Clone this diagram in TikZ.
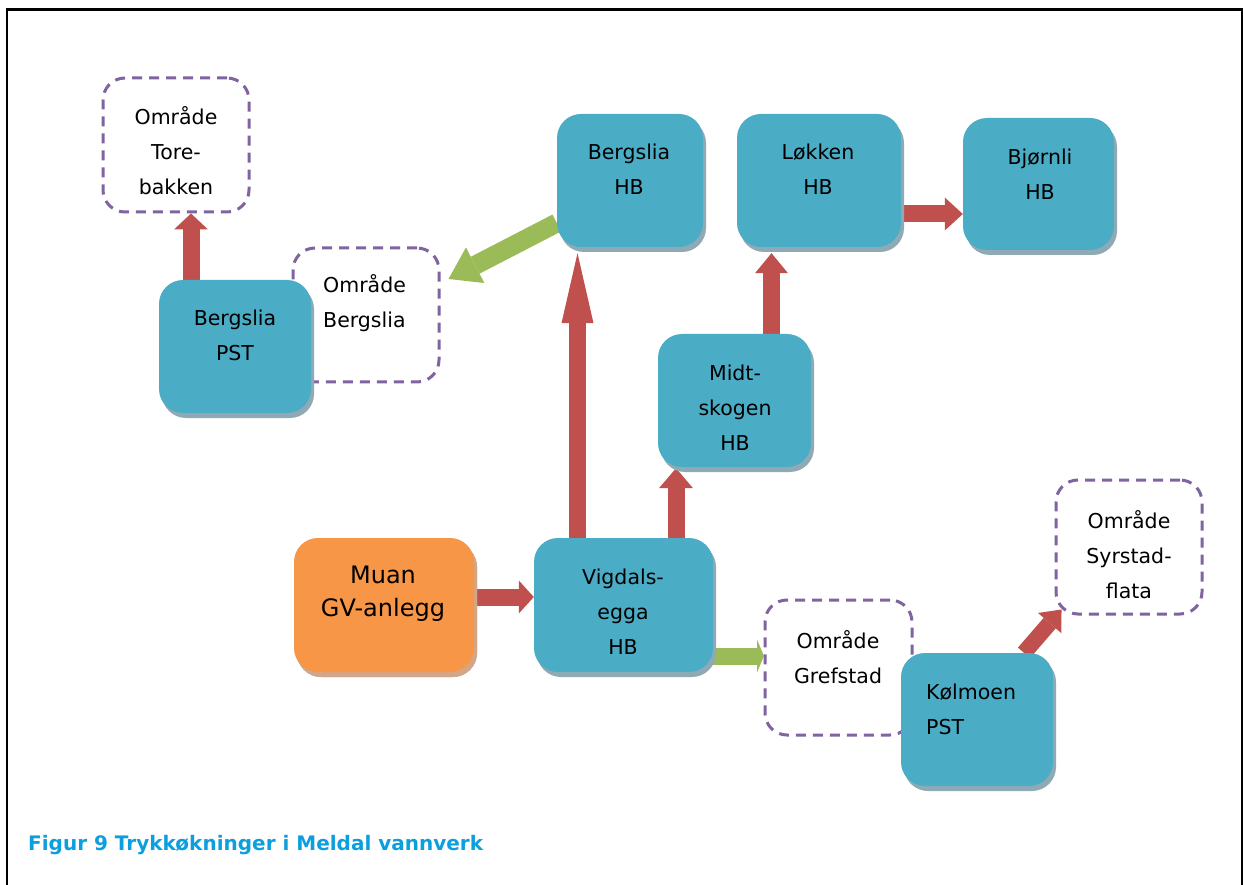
\documentclass[tikz,border=0pt]{standalone}
\usepackage{fontspec}
\setmainfont{DejaVu Sans}
\usetikzlibrary{arrows.meta,shadows}
\definecolor{tealA}{HTML}{4BACC6}
\definecolor{tealSh}{HTML}{8FAAB4}
\definecolor{orngA}{HTML}{F79646}
\definecolor{orngSh}{HTML}{D4A688}
\definecolor{redA}{HTML}{C0504D}
\definecolor{grnA}{HTML}{9BBB59}
\definecolor{purpA}{HTML}{8064A2}
\definecolor{capblue}{HTML}{0C9FDF}
\pgfdeclarelayer{back}
\pgfdeclarelayer{arr}
\pgfsetlayers{back,arr,main}
\begin{document}
\begin{tikzpicture}[x=1pt,y=-1pt,
  solidbox/.style={rectangle, rounded corners=24pt, fill=tealA, draw=none, inner sep=0pt,
    drop shadow={shadow xshift=3pt, shadow yshift=-5pt, fill=tealSh, opacity=1}},
  orangebox/.style={solidbox, fill=orngA,
    drop shadow={shadow xshift=3pt, shadow yshift=-5pt, fill=orngSh, opacity=1}},
  dbox/.style={rectangle, rounded corners=22pt, draw=purpA, fill=white, line width=3pt,
    dash pattern=on 10pt off 7pt, inner sep=0pt},
  lbl/.style={align=center, font=\fontsize{20.5}{35}\selectfont, inner sep=0pt},
  lbll/.style={align=left, anchor=west, font=\fontsize{20.5}{35}\selectfont, inner sep=0pt},
  blk/.style n args={4}{draw=#1, line width=#2, -{Triangle[length=#3, width=#4, line width=0pt]}}
]
\useasboundingbox (0,0) rectangle (1243,885);

\begin{pgfonlayer}{back}
\fill[white] (0,0) rectangle (1243,885);
\node[dbox, minimum width=146pt, minimum height=134pt] (tore) at (176,145) {};
\node[dbox, minimum width=146pt, minimum height=134pt] (obergs) at (366,315) {};
\node[dbox, minimum width=147pt, minimum height=135pt] (gref) at (838.5,667.5) {};
\node[dbox, minimum width=146pt, minimum height=134pt] (syr) at (1129,547) {};
\end{pgfonlayer}

\draw[line width=2.5pt] (7,886) -- (7,9.5) -- (1242,9.5) -- (1242,886);

\node[solidbox, minimum width=152pt, minimum height=133pt] (bpst) at (235,346.5) {};
\node[solidbox, minimum width=146pt, minimum height=133pt] (bhb) at (630,180.5) {};
\node[solidbox, minimum width=164pt, minimum height=133pt] (lok) at (819,180.5) {};
\node[solidbox, minimum width=151pt, minimum height=132pt] (bjo) at (1038.5,184) {};
\node[solidbox, minimum width=153pt, minimum height=133pt] (midt) at (734.5,400.5) {};
\node[solidbox, minimum width=179pt, minimum height=134pt] (vig) at (623.5,605) {};
\node[orangebox, minimum width=180pt, minimum height=134pt] (muan) at (384,605) {};
\node[solidbox, minimum width=152pt, minimum height=133pt] (kol) at (977,719.5) {};

\node[lbl] (toreT) at (176,151) {Område\\Tore-\\bakken};
\node[lbll] (obergsT) at (323,303.5) {Område\\Bergslia};
\node[lbl] (grefT) at (838,657) {Område\\Grefstad};
\node[lbl] (syrT) at (1129,554.7) {Område\\Syrstad-\\flata};
\node[lbl] (bpstT) at (235,335.5) {Bergslia\\PST};
\node[lbl] (bhbT) at (629,169.5) {Bergslia\\HB};
\node[lbl] (lokT) at (818,169.5) {Løkken\\HB};
\node[lbl] (bjoT) at (1040,174) {Bjørnli\\HB};
\node[lbl] (midtT) at (735,407.7) {Midt-\\skogen\\HB};
\node[lbl] (vigT) at (623,611.7) {Vigdals-\\egga\\HB};
\node[lbl, font=\fontsize{24}{33}\selectfont] (muanT) at (383,593.5) {Muan\\GV-anlegg};
\node[lbll] (kolT) at (926,709.5) {Kølmoen\\PST};

\node[anchor=west, font=\bfseries\fontsize{20}{24}\selectfont, text=capblue, inner sep=0pt] (cap) at (28,845) {Figur 9 Trykkøkninger i Meldal vannverk};

\begin{pgfonlayer}{arr}
\draw[blk={redA}{17pt}{16pt}{34pt}] ([xshift=-44pt]bpst.north) -- ([xshift=15pt]tore.south);
\draw[blk={grnA}{19pt}{30pt}{40pt}] ([yshift=-42.5pt]bhb.west) -- ([xshift=8pt,yshift=36pt]obergs.east);
\draw[blk={redA}{16.5pt}{70pt}{32pt}] ([xshift=-46pt]vig.north) -- ([xshift=-52.5pt,yshift=-6pt]bhb.south);
\draw[blk={redA}{17pt}{20pt}{34pt}] ([xshift=52.5pt]vig.north) -- ([xshift=-58.5pt,yshift=-1pt]midt.south);
\draw[blk={redA}{16.5pt}{20pt}{33pt}] ([xshift=37pt]midt.north) -- ([xshift=-47.5pt,yshift=-6pt]lok.south);
\draw[blk={redA}{17pt}{18pt}{33pt}] ([yshift=-33.5pt]lok.east) -- ([yshift=-30pt]bjo.west);
\draw[blk={redA}{17pt}{15pt}{33pt}] ([yshift=8pt]muan.east) -- ([yshift=8pt]vig.west);
\draw[blk={grnA}{17pt}{7pt}{33pt}] ([yshift=-51pt]vig.east) -- ([xshift=0.5pt,yshift=11.5pt]gref.west);
\draw[blk={redA}{16pt}{18pt}{31pt}] ([xshift=47pt]kol.north) -- ([xshift=7pt,yshift=6pt]syr.south west);
\end{pgfonlayer}
\end{tikzpicture}
\end{document}
